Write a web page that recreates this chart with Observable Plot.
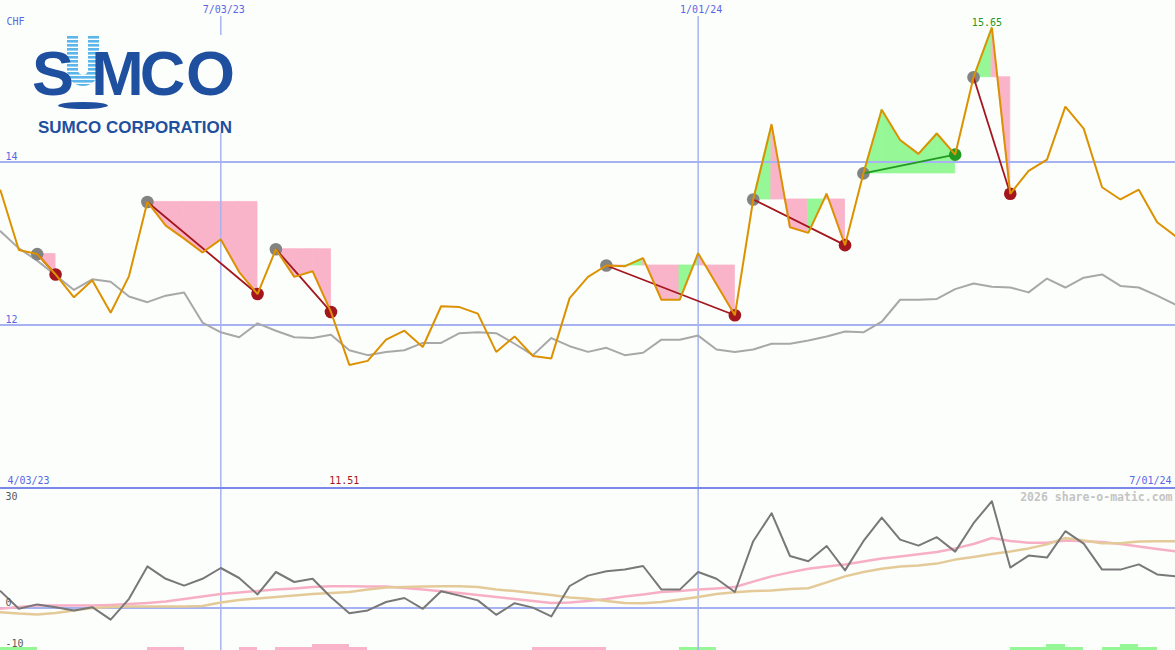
<!DOCTYPE html>
<html><head><meta charset="utf-8">
<script src="https://cdn.jsdelivr.net/npm/d3@7"></script>
<script src="https://cdn.jsdelivr.net/npm/@observablehq/plot@0.6"></script>
<style>
html,body{margin:0;padding:0;background:#fcfefc;}
#wrap{position:relative;width:1175px;height:650px;overflow:hidden;background:#fcfefc;}
#wrap > svg{display:block;}
#logo{position:absolute;left:0;top:0;}
</style></head><body>
<div id="wrap"></div>
<script>
// ---------- data ----------
const startDate = "2023-04-10"; // first weekly close
const price = [13.65,12.92,12.87,12.62,12.34,12.55,12.15,12.60,13.51,13.22,
  13.06,12.89,13.05,12.65,12.38,12.93,12.59,12.66,12.16,11.51,
  11.56,11.82,11.93,11.73,12.23,12.22,12.14,11.67,11.86,11.62,
  11.59,12.33,12.59,12.73,12.72,12.82,12.31,12.31,12.88,12.50,
  12.12,13.54,14.46,13.20,13.13,13.61,12.98,13.86,14.64,14.27,
  14.10,14.35,14.09,15.04,15.65,13.61,13.89,14.03,14.68,14.41,
  13.69,13.54,13.66,13.26,13.09];
const relative = [13.15,12.94,12.79,12.61,12.43,12.56,12.53,12.35,12.28,12.36,
  12.40,12.03,11.91,11.85,12.02,11.93,11.85,11.84,11.88,11.69,
  11.63,11.67,11.69,11.78,11.78,11.90,11.91,11.90,11.77,11.63,
  11.84,11.74,11.67,11.72,11.63,11.66,11.82,11.82,11.87,11.70,
  11.67,11.70,11.77,11.77,11.81,11.86,11.92,11.91,12.04,12.31,
  12.31,12.32,12.44,12.51,12.47,12.46,12.40,12.57,12.46,12.58,
  12.62,12.48,12.46,12.36,12.25];
const momentum = [4.2,-0.2,0.9,0.2,-0.6,0.2,-2.9,2.3,10.4,7.3,
  5.6,7.3,10.0,7.5,3.4,9.0,6.5,7.3,2.7,-1.3,
  -0.6,1.5,2.5,-0.2,4.2,3.1,1.9,-1.7,1.2,0.1,
  -2.1,5.5,8.1,9.2,9.6,10.5,4.6,4.6,9.0,7.3,
  4.0,16.7,23.7,13.0,11.7,15.5,9.4,16.7,22.6,17.1,
  15.6,17.7,14.1,21.2,26.7,10.1,13.1,12.6,19.2,16.1,
  9.6,9.6,10.9,8.4,7.9];
const avgFast = [-0.2,0.25,0.6,0.6,0.6,0.6,0.75,1.0,1.25,1.6,
  2.25,2.9,3.5,3.9,4.25,4.6,4.9,5.25,5.45,5.45,
  5.4,5.4,5.0,4.6,4.2,3.75,3.25,2.75,2.25,1.75,
  1.25,1.4,1.75,2.25,2.9,3.4,4.0,4.25,4.6,4.9,
  5.25,6.6,7.9,8.9,9.8,10.4,10.9,11.6,12.4,12.9,
  13.45,14.0,14.9,16.0,17.5,16.75,16.3,16.3,16.9,16.7,
  16.5,16.0,15.4,14.75,14.2];
const avgSlow = [-1.05,-1.4,-1.6,-1.25,-0.6,0,0.25,0.4,0.4,0.4,
  0.4,0.5,1.4,2.0,2.4,2.75,3.1,3.5,3.75,4.0,
  4.6,5.1,5.25,5.4,5.45,5.45,5.25,4.6,4.25,3.75,
  3.25,2.6,2.3,1.75,1.25,1.2,1.5,2.1,2.75,3.5,
  3.95,4.25,4.4,4.75,4.95,6.4,7.9,9.0,9.8,10.4,
  10.6,11.1,12.1,12.75,13.5,14.1,14.9,15.9,17.5,16.9,
  16.2,16.2,16.6,16.7,16.7];
// weekly signal strength (interval i -> i+1): + green, - pink
const signalBars = [1,1,0,0,0,0,0,0,-1,-1, 0,0,0,-1,0,-1,-1,-2,-2,-1,
  0,0,0,0,0,0,0,0,0,-1, -1,-1,-1,0,0,0,0,1,1,0,
  0,0,0,0,0,0,0,0,0,0, 0,0,0,0,0,1,1,2,1,0, 1,2,1,0];
// trade signals: [start week index, end week index]
const eventStarts = [2, 8, 15, 33, 41, 47, 53];
const eventEnds   = [3, 14, 18, 40, 46, 52, 55];
const priceTicks = [12, 14];
const indicatorTicks = [30, 0, -10];
const dateTicks = ["2023-07-03", "2024-01-01"];
const dateTickLabels = ["7/03/23", "1/01/24"];
const rangeLabels = ["4/03/23", "7/01/24"];
const currency = "CHF";
const watermark = "2026 share-o-matic.com";

// ---------- styles ----------
const MONO = "'DejaVu Sans Mono', 'Liberation Mono', monospace";
const BLUE = "#5a66e6", GRID = "#a6b2f2", SEP = "#7a88ea";
const ORANGE = "#dc9200", GRAYLINE = "#a8a8a8";
const PINK = "#fab4ca", LGREEN = "#96f796";
const DRED = "#a3161e", DGREEN = "#229a22";

// ---------- derived tables ----------
const dates = price.map((_, i) => d3.utcDay.offset(new Date(startDate), 7 * i));
const rows = price.map((p, i) => ({date: dates[i], price: p, relative: relative[i],
  momentum: momentum[i], fast: avgFast[i], slow: avgSlow[i]}));
const events = eventStarts.map((s, k) => {
  const e = eventEnds[k];
  return {s, e, x1: dates[s], y1: price[s], x2: dates[e], y2: price[e], up: price[e] > price[s]};
});
const fillRows = [];
events.forEach((ev, k) => {
  for (let i = ev.s; i < ev.e; i++) {
    const up = price[i + 1] >= ev.y1;
    for (const j of [i, i + 1]) fillRows.push({seg: k + "-" + i, date: dates[j], level: ev.y1, value: price[j], color: up ? LGREEN : PINK});
  }
});
const barRows = signalBars.map((v, i) => ({x1: dates[i], x2: dates[i + 1], v})).filter(d => d.v !== 0);
const iMax = d3.maxIndex(price), iMin = d3.minIndex(price);
const tickDates = dateTicks.map(d => new Date(d));

const W = 1175;
const xOpt = {type: "utc", domain: [dates[0], dates[dates.length - 1]], range: [0, W], axis: null};
const baseStyle = {background: "transparent", fontFamily: MONO, fontSize: "10px"};

const topPlot = Plot.plot({
  width: W, height: 486, margin: 0,
  style: baseStyle,
  x: xOpt,
  y: {domain: [12, 14], range: [324.5, 161.5], axis: null},
  color: {type: "identity"},
  marks: [
    Plot.areaY(fillRows, {x: "date", y1: "level", y2: "value", z: "seg", fill: "color", stroke: "color", strokeWidth: 0.8, curve: "linear"}),
    Plot.ruleY(priceTicks, {stroke: GRID, strokeWidth: 2}),
    Plot.ruleX(tickDates, {stroke: GRID, strokeWidth: 1.5, insetTop: 16}),
    Plot.line(rows, {x: "date", y: "relative", stroke: GRAYLINE, strokeWidth: 2}),
    Plot.dot(events, {x: "x1", y: "y1", r: 6.3, fill: "#838383"}),
    Plot.dot(events, {x: "x2", y: "y2", r: 6.3, fill: d => d.up ? DGREEN : DRED}),
    Plot.link(events, {x1: "x1", y1: "y1", x2: "x2", y2: "y2", stroke: d => d.up ? DGREEN : DRED, strokeWidth: 1.8}),
    Plot.line(rows, {x: "date", y: "price", stroke: ORANGE, strokeWidth: 2, strokeLinejoin: "miter"}),
    Plot.text(priceTicks, {y: d => d, text: d => String(d), frameAnchor: "left", textAnchor: "start", lineAnchor: "bottom", dx: 5, dy: -2, fill: BLUE}),
    Plot.text(dateTickLabels, {x: (d, i) => tickDates[i], text: d => d, frameAnchor: "top", lineAnchor: "top", dy: 5, dx: 3, fill: BLUE}),
    Plot.text([currency], {text: d => d, frameAnchor: "top-left", textAnchor: "start", lineAnchor: "top", dx: 6, dy: 17, fill: BLUE}),
    Plot.text([iMax], {x: i => dates[i], y: i => price[i], text: i => d3.format(".2f")(price[i]), lineAnchor: "bottom", dy: -2, dx: -5, fill: DGREEN}),
    Plot.text([iMin], {x: i => dates[i], text: i => d3.format(".2f")(price[i]), frameAnchor: "bottom", lineAnchor: "bottom", dy: -3, dx: -5, fill: DRED}),
    Plot.text([rangeLabels[0]], {text: d => d, frameAnchor: "bottom-left", textAnchor: "start", lineAnchor: "bottom", dx: 7, dy: -3, fill: BLUE}),
    Plot.text([rangeLabels[1]], {text: d => d, frameAnchor: "bottom-right", textAnchor: "end", lineAnchor: "bottom", dx: -4, dy: -3, fill: BLUE})
  ]
});

const BASE = -10.7, STEP = 0.8;
const bottomPlot = Plot.plot({
  width: W, height: 164, margin: 0,
  style: baseStyle,
  x: xOpt,
  y: {domain: [0, 30], range: [121.5, 1.5], axis: null},
  color: {type: "identity"},
  marks: [
    Plot.rect(barRows, {x1: "x1", x2: "x2", y1: BASE, y2: d => BASE + STEP * Math.abs(d.v), fill: d => d.v > 0 ? LGREEN : PINK, shapeRendering: "crispEdges"}),
    Plot.ruleY([0], {stroke: GRID, strokeWidth: 2}),
    Plot.ruleX(tickDates, {stroke: GRID, strokeWidth: 1.5}),
    Plot.line(rows, {x: "date", y: "fast", stroke: "#f7afc6", strokeWidth: 2.5}),
    Plot.line(rows, {x: "date", y: "slow", stroke: "#e4ca98", strokeWidth: 2.5}),
    Plot.line(rows, {x: "date", y: "momentum", stroke: "#787878", strokeWidth: 2}),
    Plot.ruleY([indicatorTicks[0]], {stroke: SEP, strokeWidth: 2}),
    ...indicatorTicks.map((t, k) => Plot.text([t], {y: d => d, text: d => String(d), frameAnchor: "left", textAnchor: "start", lineAnchor: "bottom", dx: 5, dy: k === 0 ? 12 : (k === 1 ? -2.5 : -1.5), fill: "#5a5a5a"})),
    Plot.text([watermark], {text: d => d, frameAnchor: "top-right", textAnchor: "end", lineAnchor: "bottom", dx: -3, dy: 14, fill: "#c4c4c4", fontWeight: "bold", fontSize: 11.5})
  ]
});

const wrap = document.getElementById("wrap");
wrap.appendChild(topPlot);
wrap.appendChild(bottomPlot);

// ---------- company logo (decoration) ----------
const logo = `<svg id="logo" width="260" height="140" viewBox="0 0 260 140" xmlns="http://www.w3.org/2000/svg">
<defs><pattern id="stripes" width="4" height="4" patternUnits="userSpaceOnUse"><rect width="4" height="2.6" fill="#5cb6ec"/></pattern></defs>
<rect x="28" y="35" width="216" height="98" fill="#fcfefc"/>
<path d="M72.5 35 V70 A10.5 10.5 0 0 0 93.5 70 V35" fill="none" stroke="url(#stripes)" stroke-width="11"/>
<g font-family="'Liberation Sans', Arial, sans-serif" font-weight="bold" fill="#1f4f9f" font-size="63" text-anchor="middle">
<text x="53" y="95">S</text><text x="117.5" y="95">M</text><text x="162.5" y="95">C</text><text x="210.5" y="95">O</text>
</g>
<ellipse cx="83" cy="105.5" rx="25" ry="3.5" fill="#1f4f9f"/>
<text x="38" y="133" font-family="'Liberation Sans', Arial, sans-serif" font-weight="bold" font-size="16.5" fill="#1f4f9f" textLength="194" lengthAdjust="spacingAndGlyphs">SUMCO CORPORATION</text>
</svg>`;
wrap.insertAdjacentHTML("beforeend", logo);
</script>
</body></html>
